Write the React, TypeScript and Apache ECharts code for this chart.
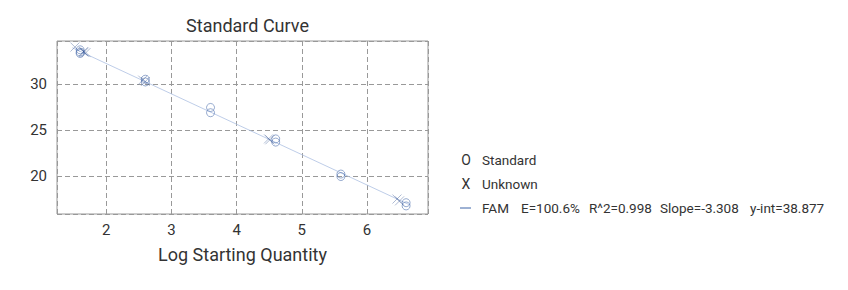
import React, { useEffect, useRef } from "react";
import * as echarts from "echarts";

const titleText = "Standard Curve";
const xAxisName = "Log Starting Quantity";

// Standards (circles): [log quantity, Ct]
const standardPoints: number[][] = [
  [1.6, 33.75], [1.6, 33.5], [1.6, 33.35],
  [2.6, 30.55], [2.6, 30.25],
  [3.6, 27.47], [3.6, 26.9],
  [4.6, 24.05], [4.6, 23.7],
  [5.6, 20.22], [5.6, 19.95],
  [6.6, 17.1], [6.6, 16.75],
];

// Unknowns (X marks)
const unknownPoints: number[][] = [
  [1.52, 34.05], [1.65, 33.55], [1.69, 33.45], [1.66, 33.5],
  [2.56, 30.45], [2.6, 30.3],
  [4.49, 24.05], [4.51, 23.95],
  [6.46, 17.5], [6.5, 17.3],
];

// Regression line endpoints
const fitLine: number[][] = [
  [1.48, 33.98],
  [6.65, 16.88],
];

const xRange = [1.245, 6.936];
const yRange = [15.87, 34.71];

const legendItems = [
  { mark: "O", parts: ["Standard"] },
  { mark: "X", parts: ["Unknown"] },
  { mark: "line", parts: ["FAM", "E=100.6%", "R^2=0.998", "Slope=-3.308", "y-int=38.877"] },
];
const legendPartX = [482, 521, 589, 660, 750];

const FONT = "Roboto, 'Noto Sans', sans-serif";
const TEXT = "#333";

export default function App() {
  const ref = useRef<HTMLDivElement>(null);
  useEffect(() => {
    document.body.style.margin = "0";
    const chart = echarts.init(ref.current!, undefined, { renderer: "svg" });
    const legendGraphics: any[] = [];
    legendItems.forEach((it, i) => {
      const cy = 160 + i * 24;
      if (it.mark === "line") {
        legendGraphics.push({
          type: "line",
          shape: { x1: 460, y1: cy, x2: 471, y2: cy },
          style: { stroke: "#3c64a8", lineWidth: 1 },
        });
      } else {
        legendGraphics.push({
          type: "text",
          x: 466,
          y: cy,
          style: {
            text: it.mark,
            fill: TEXT,
            font: `14px ${FONT}`,
            align: "center",
            verticalAlign: "middle",
          },
        });
      }
      it.parts.forEach((p, j) => {
        legendGraphics.push({
          type: "text",
          x: legendPartX[j],
          y: cy,
          style: {
            text: p,
            fill: TEXT,
            font: `13.5px ${FONT}`,
            align: "left",
            verticalAlign: "middle",
          },
        });
      });
    });

    chart.setOption({
      animation: false,
      backgroundColor: "#fff",
      textStyle: { fontFamily: FONT },
      title: {
        text: titleText,
        left: 242.5,
        top: 11,
        textAlign: "center",
        textStyle: { fontSize: 18, fontWeight: "normal", color: TEXT, fontFamily: FONT },
      },
      grid: {
        left: 57,
        right: 420,
        top: 41,
        bottom: 76,
        show: true,
        borderColor: "#999",
        borderWidth: 1,
        containLabel: false,
      },
      xAxis: {
        type: "value",
        min: xRange[0],
        max: xRange[1],
        splitNumber: 5,
        name: xAxisName,
        nameLocation: "middle",
        nameGap: 31,
        nameTextStyle: { fontSize: 18, color: TEXT, fontFamily: FONT },
        axisLine: { show: false },
        axisTick: { show: false },
        axisLabel: {
          fontSize: 15,
          color: TEXT,
          margin: 8,
          showMinLabel: false,
          showMaxLabel: false,
          fontFamily: FONT,
        },
        splitLine: { show: true, lineStyle: { color: "#999", type: [5, 3], width: 1 } },
      },
      yAxis: {
        type: "value",
        min: yRange[0],
        max: yRange[1],
        splitNumber: 4,
        axisLine: { show: false },
        axisTick: { show: false },
        axisLabel: {
          fontSize: 15,
          color: TEXT,
          margin: 10,
          showMinLabel: false,
          showMaxLabel: false,
          fontFamily: FONT,
        },
        splitLine: { show: true, lineStyle: { color: "#999", type: [5, 3], width: 1 } },
      },
      series: [
        {
          name: "FAM",
          type: "line",
          data: fitLine,
          symbol: "none",
          lineStyle: { color: "#adc0e2", width: 0.8 },
          z: 1,
        },
        {
          name: "Standard",
          type: "scatter",
          data: standardPoints,
          symbol: "circle",
          symbolSize: 8,
          itemStyle: {
            color: "rgba(0,0,0,0)",
            borderColor: "rgba(70,105,170,0.7)",
            borderWidth: 1,
          },
          z: 2,
        },
        {
          name: "Unknown",
          type: "scatter",
          data: unknownPoints,
          symbol: "path://M0,0L10,10M10,0L0,10",
          symbolSize: 9,
          itemStyle: {
            color: "rgba(0,0,0,0)",
            borderColor: "rgba(35,70,135,0.45)",
            borderWidth: 1,
          },
          z: 3,
        },
      ],
      graphic: legendGraphics,
    });
    return () => chart.dispose();
  }, []);
  return (
    <div
      ref={ref}
      style={{ position: "absolute", left: 0, top: 0, width: 848, height: 290 }}
    />
  );
}
